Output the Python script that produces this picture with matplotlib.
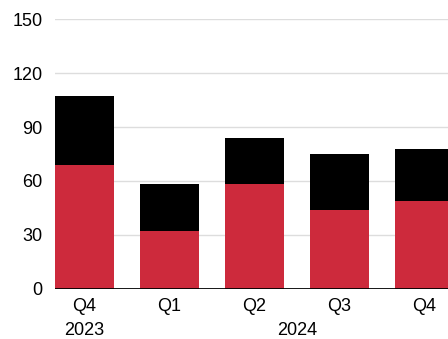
import matplotlib
matplotlib.use("Agg")
import matplotlib.pyplot as plt

trimestres = ["Q4", "Q1", "Q2", "Q3", "Q4"]
anios = ["2023", "2024"]
rojo = [69.0, 32.0, 58.3, 43.6, 49.0]
total = [107.3, 58.3, 83.7, 75.0, 77.8]
negro = [t - r for t, r in zip(total, rojo)]
marcas_y = [0, 30, 60, 90, 120, 150]

plt.rcParams['font.family'] = ['Liberation Sans', 'DejaVu Sans']

fig = plt.figure(figsize=(4.48, 3.39), dpi=100)
ax = fig.add_axes([0.1234, 0.1484, 0.8766, 0.7946])

x = list(range(len(trimestres)))
ax.bar(x, rojo, width=0.69, color='#cd2a3c', zorder=2)
ax.bar(x, negro, bottom=rojo, width=0.69, color='black', zorder=2)

ax.set_xlim(-0.345, 4.275)
ax.set_ylim(0, 150)
ax.set_yticks(marcas_y)
ax.yaxis.grid(True, color='#dddddd', linewidth=1, zorder=0)
ax.set_axisbelow(True)
ax.axhline(0, color='black', linewidth=2, zorder=3)

ax.set_xticks(x)
ax.set_xticklabels(trimestres)
ax.tick_params(axis='both', length=0, labelsize=13)
ax.tick_params(axis='x', pad=7)
ax.tick_params(axis='y', pad=9)

for s in ax.spines.values():
    s.set_visible(False)

# etiquetas de anio
ax.text(0, -0.155, anios[0], transform=ax.get_xaxis_transform(), ha='center', va='center', fontsize=13)
ax.text(2.5, -0.155, anios[1], transform=ax.get_xaxis_transform(), ha='center', va='center', fontsize=13)

fig.savefig("out.png", dpi=100)
